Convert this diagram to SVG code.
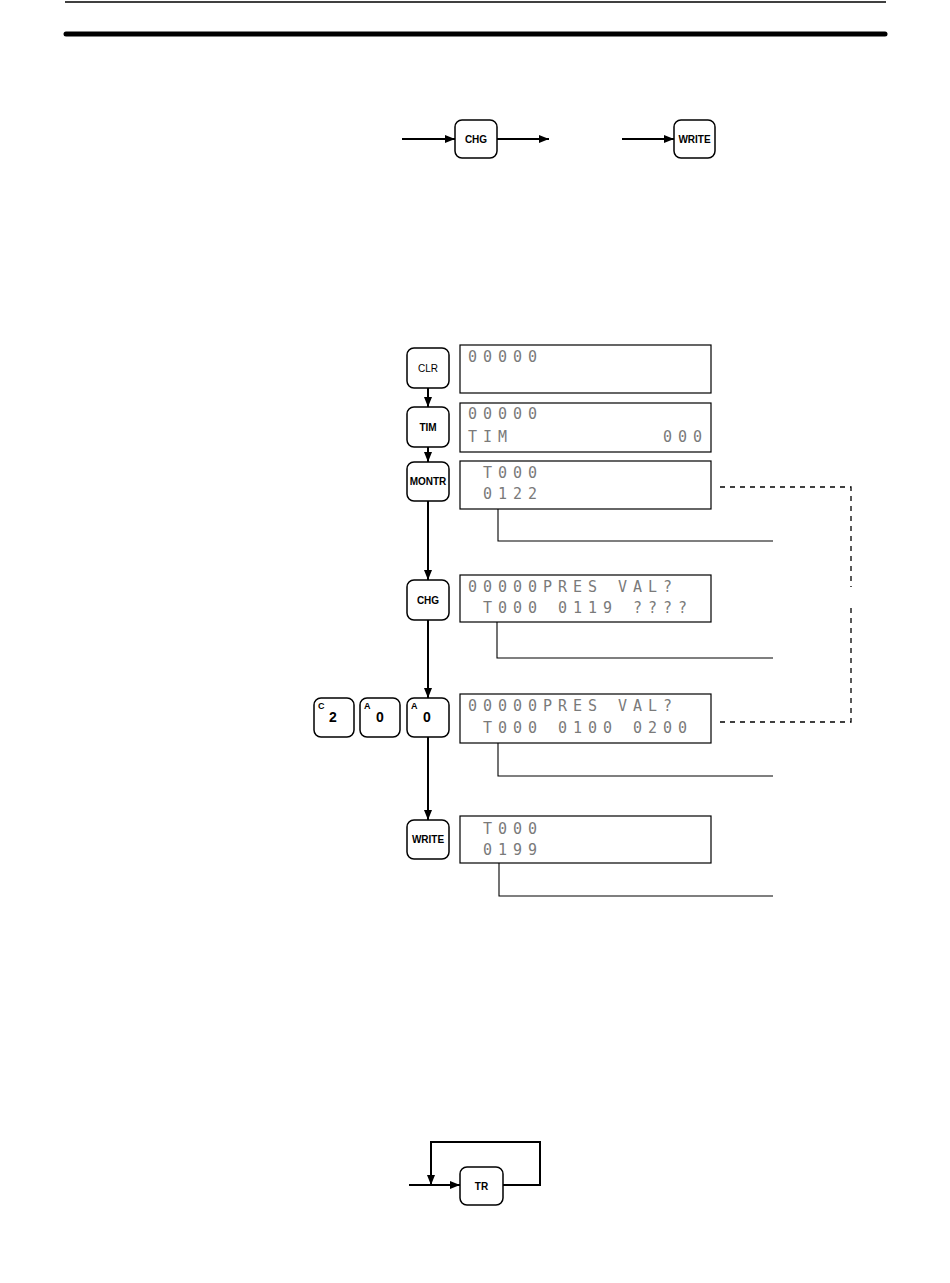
<svg xmlns="http://www.w3.org/2000/svg" width="950" height="1283" viewBox="0 0 950 1283">
<style>
.key{fill:#fff;stroke:#000;stroke-width:1.5}
.kl{font-family:"Liberation Sans",Arial,sans-serif;font-weight:bold;font-size:10px;text-anchor:middle;fill:#000}
.kn{font-family:"Liberation Sans",Arial,sans-serif;font-weight:bold;font-size:14px;fill:#000}
.ks{font-family:"Liberation Sans",Arial,sans-serif;font-weight:bold;font-size:9px;fill:#000}
.disp{fill:#fff;stroke:#000;stroke-width:1.2}
.lcd{font-family:"DejaVu Sans Mono","Liberation Mono",monospace;font-size:15px;letter-spacing:5.97px;fill:#7a7a7a;white-space:pre}
.flow{fill:none;stroke:#000;stroke-width:2}
.call{fill:none;stroke:#000;stroke-width:1.1}
.dash{fill:none;stroke:#000;stroke-width:1.3;stroke-dasharray:5 5}
</style>
<defs>
<marker id="ah" markerUnits="userSpaceOnUse" markerWidth="11" markerHeight="9" refX="10" refY="4" orient="auto">
<path d="M0,0 L10,4 L0,8 z" fill="#000"/>
</marker>
</defs>
<rect width="950" height="1283" fill="#fff"/>
<g id="header">
<line x1="65" y1="2" x2="886" y2="2" stroke="#000" stroke-width="1.5"/>
<line x1="66" y1="34" x2="885" y2="34" stroke="#000" stroke-width="5" stroke-linecap="round"/>
</g>
<g id="connectors">
<line class="flow" x1="402" y1="139" x2="455" y2="139" marker-end="url(#ah)"/>
<line class="flow" x1="497" y1="139" x2="549" y2="139" marker-end="url(#ah)"/>
<line class="flow" x1="622" y1="139" x2="674" y2="139" marker-end="url(#ah)"/>
<line class="flow" x1="428" y1="388" x2="428" y2="407" marker-end="url(#ah)"/>
<line class="flow" x1="428" y1="447" x2="428" y2="462" marker-end="url(#ah)"/>
<line class="flow" x1="428" y1="501" x2="428" y2="580" marker-end="url(#ah)"/>
<line class="flow" x1="428" y1="620" x2="428" y2="698" marker-end="url(#ah)"/>
<line class="flow" x1="428" y1="737" x2="428" y2="820" marker-end="url(#ah)"/>
<polyline class="call" points="498,509 498,541 773,541"/>
<polyline class="call" points="497,622 497,658 773,658"/>
<polyline class="call" points="498,743 498,776 773,776"/>
<polyline class="call" points="499,863 499,896 773,896"/>
<polyline class="dash" points="720,487 851,487 851,587"/>
<polyline class="dash" points="851,608 851,722 720,722"/>
<line class="flow" x1="409" y1="1185" x2="460" y2="1185" marker-end="url(#ah)"/>
<polyline class="flow" points="503,1185 540,1185 540,1142 431,1142 431,1185" marker-end="url(#ah)"/>
</g>
<g id="key-chg-top"><rect class="key" x="455" y="120" width="42" height="38" rx="7"/><text class="kl" x="476" y="143" font-size="10.5">CHG</text></g>
<g id="key-write-top"><rect class="key" x="674" y="120" width="41" height="38" rx="7"/><text class="kl" x="694.5" y="143">WRITE</text></g>
<g id="key-clr"><rect class="key" x="407" y="348" width="42" height="40" rx="7"/><text class="kl" x="428" y="372" style="font-weight:normal">CLR</text></g>
<g id="key-tim"><rect class="key" x="407" y="407" width="42" height="40" rx="7"/><text class="kl" x="428" y="431">TIM</text></g>
<g id="key-montr"><rect class="key" x="407" y="462" width="42" height="39" rx="7"/><text class="kl" x="428" y="485">MONTR</text></g>
<g id="key-chg"><rect class="key" x="407" y="580" width="42" height="40" rx="7"/><text class="kl" x="428" y="604">CHG</text></g>
<g id="key-2"><rect class="key" x="314" y="698" width="40" height="39" rx="7"/><text class="ks" x="318" y="709">C</text><text class="kn" x="329" y="722">2</text></g>
<g id="key-0a"><rect class="key" x="360" y="698" width="40" height="39" rx="7"/><text class="ks" x="364" y="709">A</text><text class="kn" x="376" y="722">0</text></g>
<g id="key-0b"><rect class="key" x="407" y="698" width="42" height="39" rx="7"/><text class="ks" x="411" y="709">A</text><text class="kn" x="423" y="722">0</text></g>
<g id="key-write"><rect class="key" x="407" y="820" width="42" height="39" rx="7"/><text class="kl" x="428" y="843">WRITE</text></g>
<g id="key-tr"><rect class="key" x="460" y="1167" width="43" height="38" rx="7"/><text class="kl" x="481.5" y="1190">TR</text></g>
<g id="disp1"><rect class="disp" x="460" y="345" width="251" height="48"/><text class="lcd" x="468" y="362">00000</text></g>
<g id="disp2"><rect class="disp" x="460" y="403" width="251" height="49"/><text class="lcd" x="468" y="419">00000</text><text class="lcd" x="468" y="442">TIM          000</text></g>
<g id="disp3"><rect class="disp" x="460" y="461" width="251" height="48"/><text class="lcd" x="468" y="478"> T000</text><text class="lcd" x="468" y="499"> 0122</text></g>
<g id="disp4"><rect class="disp" x="460" y="575" width="251" height="47"/><text class="lcd" x="468" y="592">00000PRES VAL?</text><text class="lcd" x="468" y="613"> T000 0119 ????</text></g>
<g id="disp5"><rect class="disp" x="460" y="694" width="251" height="49"/><text class="lcd" x="468" y="711">00000PRES VAL?</text><text class="lcd" x="468" y="733"> T000 0100 0200</text></g>
<g id="disp6"><rect class="disp" x="460" y="816" width="251" height="47"/><text class="lcd" x="468" y="834"> T000</text><text class="lcd" x="468" y="855"> 0199</text></g>
</svg>
